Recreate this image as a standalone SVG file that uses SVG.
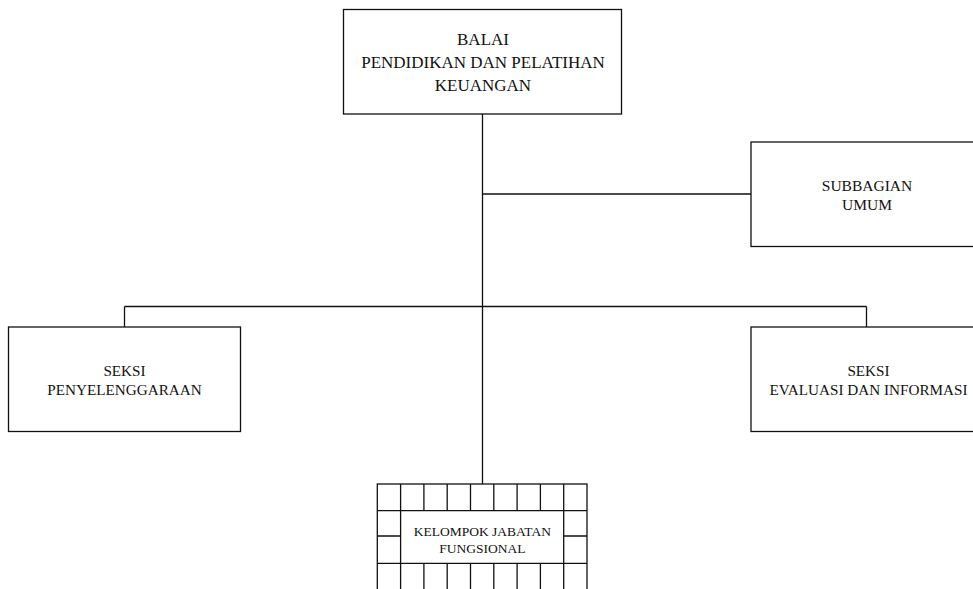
<svg xmlns="http://www.w3.org/2000/svg" width="973" height="589" viewBox="0 0 973 589">
<style>
.box{fill:#fff;stroke:#111;stroke-width:1.3}
.ln{fill:none;stroke:#111;stroke-width:1.3}
.t{font-family:"Liberation Serif","Times New Roman",serif;fill:#111;text-anchor:middle}
</style>
<rect width="973" height="589" fill="#fff"/>
<g id="connectors">
<path class="ln" d="M482.5 114 V484"/>
<path class="ln" d="M482.5 194 H751"/>
<path class="ln" d="M124.5 306.5 H866.5"/>
<path class="ln" d="M124.5 306.5 V327"/>
<path class="ln" d="M866.5 306.5 V327"/>
</g>
<g id="balai">
<rect class="box" x="343.5" y="9.5" width="278" height="104.5"/>
<text class="t" font-size="17"><tspan x="483" y="45">BALAI</tspan><tspan x="483" y="68">PENDIDIKAN DAN PELATIHAN</tspan><tspan x="483" y="90.5">KEUANGAN</tspan></text>
</g>
<g id="subbagian">
<rect class="box" x="751" y="142" width="235" height="104.5"/>
<text class="t" font-size="15.5"><tspan x="867" y="190.5">SUBBAGIAN</tspan><tspan x="867" y="210">UMUM</tspan></text>
</g>
<g id="seksi-penyelenggaraan">
<rect class="box" x="8.5" y="327" width="232" height="104.5"/>
<text class="t" font-size="15.2"><tspan x="124.5" y="376">SEKSI</tspan><tspan x="124.5" y="394.5">PENYELENGGARAAN</tspan></text>
</g>
<g id="seksi-evaluasi">
<rect class="box" x="751" y="327" width="235" height="104.5"/>
<text class="t" font-size="15.2"><tspan x="868.5" y="376">SEKSI</tspan><tspan x="868.5" y="394.5">EVALUASI DAN INFORMASI</tspan></text>
</g>
<g id="kelompok-jabatan-fungsional">
<rect class="box" x="377.3" y="484" width="209.7" height="120"/>
<path class="ln" d="M377.3 510.7 H587 M377.3 563.3 H587 M377.3 536 H400.6 M563.7 536 H587 M400.6 484 V600 M563.7 484 V600 M423.9 484 V510.7 M447.2 484 V510.7 M470.5 484 V510.7 M493.8 484 V510.7 M517.1 484 V510.7 M540.4 484 V510.7 M423.9 563.3 V600 M447.2 563.3 V600 M470.5 563.3 V600 M493.8 563.3 V600 M517.1 563.3 V600 M540.4 563.3 V600"/>
<text class="t" font-size="13.5"><tspan x="482.3" y="535.7">KELOMPOK JABATAN</tspan><tspan x="482.3" y="553.3">FUNGSIONAL</tspan></text>
</g>
</svg>
